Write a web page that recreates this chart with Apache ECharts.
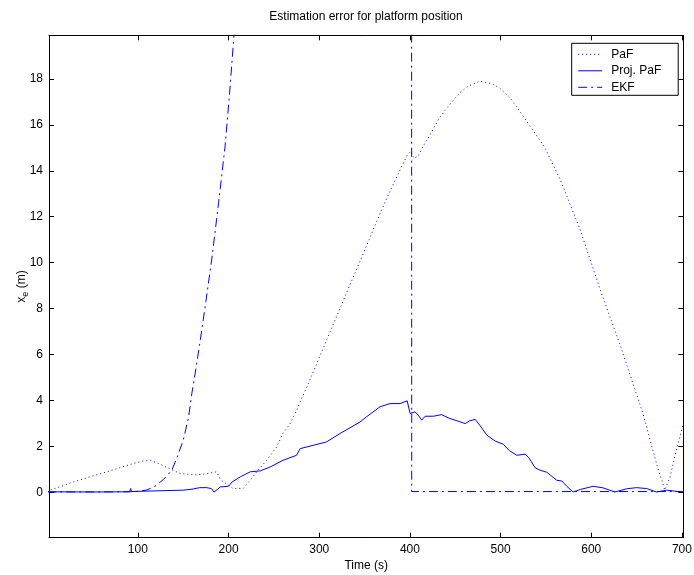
<!DOCTYPE html>
<html>
<head>
<meta charset="utf-8">
<script src="https://cdn.jsdelivr.net/npm/echarts@6/dist/echarts.min.js"></script>
<style>
html,body{margin:0;padding:0;background:#fff;}
#c{width:694px;height:575px;}
</style>
</head>
<body>
<div id="c"></div>
<script>
// ---- data ----
const titleText = 'Estimation error for platform position';
const seriesNames = ['PaF', 'Proj. PaF', 'EKF'];
const xTicks = [100, 200, 300, 400, 500, 600, 700];
const yTicks = [0, 2, 4, 6, 8, 10, 12, 14, 16, 18];

const pafT = [0, 3, 15, 29, 47, 66, 80, 95, 105, 114, 121, 132, 147, 165, 175, 187, 191, 200, 205, 216, 224, 231, 242, 253, 260, 268, 275, 283, 288, 300, 320, 340, 355, 367, 382, 397, 401, 404, 409, 415, 422, 431, 440, 455, 465, 477, 490, 499, 510, 521, 535, 549, 556, 566, 588, 610, 632, 646, 657, 667, 674, 679, 681, 687, 692, 700, 701];
const pafV = [0.02, 0.09, 0.25, 0.45, 0.67, 0.89, 1.07, 1.25, 1.35, 1.39, 1.28, 1.08, 0.81, 0.76, 0.8, 0.89, 0.55, 0.3, 0.16, 0.16, 0.52, 0.89, 1.39, 1.97, 2.56, 2.99, 3.57, 4.3, 4.73, 5.86, 7.73, 9.6, 11.0, 12.14, 13.45, 14.68, 14.85, 14.55, 14.63, 15.1, 15.55, 16.2, 16.7, 17.4, 17.7, 17.9, 17.8, 17.6, 17.2, 16.6, 15.8, 15.0, 14.4, 13.6, 11.4, 8.8, 6.4, 4.73, 3.43, 1.97, 0.96, 0.38, 0.09, 0.67, 1.54, 2.77, 2.9];

const projT = [0, 50, 91, 92, 93, 110, 130, 150, 161, 168, 176, 181, 184, 191, 200, 204, 213, 224, 235, 246, 260, 275, 279, 294, 308, 323, 345, 352, 367, 378, 389, 397, 398.5, 400.2, 405.7, 409.4, 413, 416.8, 426, 435, 444, 452, 461, 466, 472, 477, 485, 494, 503, 510, 518, 527, 531, 538, 543.5, 551, 555, 562, 567.5, 573, 580, 588, 602, 613, 626, 639, 650, 661, 672, 683, 700];
const projV = [0.02, 0.01, 0.02, 0.16, 0.03, 0.05, 0.07, 0.09, 0.14, 0.2, 0.2, 0.16, 0.01, 0.23, 0.26, 0.45, 0.67, 0.89, 0.93, 1.1, 1.39, 1.61, 1.9, 2.05, 2.19, 2.56, 3.06, 3.28, 3.72, 3.86, 3.86, 3.98, 4.0, 3.43, 3.5, 3.35, 3.14, 3.31, 3.31, 3.38, 3.21, 3.11, 2.99, 3.11, 3.17, 2.92, 2.48, 2.23, 2.09, 1.8, 1.61, 1.66, 1.51, 1.07, 0.96, 0.87, 0.74, 0.52, 0.49, 0.26, 0.01, 0.12, 0.26, 0.19, 0.01, 0.15, 0.2, 0.16, 0.01, 0.09, 0.01];

const ekfT = [0, 90, 100, 110, 119, 128, 137.5, 144, 150, 156, 159.5, 162, 168, 175, 182, 189, 196, 201, 206, 215, 300, 401.5, 402, 701];
const ekfV = [0.01, 0.02, 0.04, 0.1, 0.26, 0.55, 0.96, 1.6, 2.26, 3.28, 4.3, 4.88, 6.4, 8.3, 10.3, 12.6, 15.0, 17.3, 19.9, 24, 60, 80, 0.03, 0.03];

const xMin = 2, xMax = 701.5, yMin = -1.98, yMax = 19.9;

// ---- chart ----
const zip = (a, b) => a.map((t, i) => [t, b[i]]);
const FONT = 'Liberation Sans, Arial, Helvetica, sans-serif';
const BLUE = '#0000ff';

const cv = document.createElement('canvas').getContext('2d');
cv.font = '12px "Liberation Sans"';
const titleW = cv.measureText(titleText).width;

const axisCommon = {
  axisLine: { show: true, onZero: false, lineStyle: { color: '#000', width: 1 } },
  axisTick: { show: true, inside: true, length: 5, lineStyle: { color: '#000', width: 1 } },
  splitLine: { show: false },
  axisLabel: { color: '#000', fontFamily: FONT, fontSize: 12, margin: 6 }
};

const chart = echarts.init(document.getElementById('c'), null, { renderer: 'canvas' });
chart.setOption({
  animation: false,
  backgroundColor: '#fff',
  title: {
    text: titleText,
    left: 366 - titleW / 2,
    top: 11,
    padding: 0,
    textStyle: { color: '#000', fontFamily: FONT, fontSize: 12, fontWeight: 'normal' }
  },
  grid: { left: 49, right: 10.7, top: 35.3, bottom: 37.3, containLabel: false, outerBoundsMode: 'none' },
  legend: {
    orient: 'vertical',
    left: 571.7,
    top: 43.3,
    padding: [4, 17, 1, 6],
    itemWidth: 24,
    itemHeight: 12,
    itemGap: 2.5,
    borderColor: '#000',
    borderWidth: 1,
    backgroundColor: '#fff',
    itemStyle: { opacity: 0 },
    lineStyle: { width: 1 },
    textStyle: { color: '#000', fontFamily: FONT, fontSize: 12, lineHeight: 14, padding: [0, 0, 0, 4] },
    data: seriesNames
  },
  xAxis: [
    Object.assign({}, axisCommon, {
      type: 'value', position: 'bottom', min: xMin, max: xMax,
      axisTick: Object.assign({}, axisCommon.axisTick, { customValues: xTicks }),
      axisLabel: Object.assign({}, axisCommon.axisLabel, { customValues: xTicks }),
      name: 'Time (s)', nameLocation: 'middle', nameGap: 22, nameMoveOverlap: false,
      nameTextStyle: { color: '#000', fontFamily: FONT, fontSize: 12 }
    }),
    Object.assign({}, axisCommon, {
      type: 'value', position: 'top', min: xMin, max: xMax,
      axisTick: Object.assign({}, axisCommon.axisTick, { customValues: xTicks }),
      axisLabel: { show: false }
    })
  ],
  yAxis: [
    Object.assign({}, axisCommon, {
      type: 'value', position: 'left', min: yMin, max: yMax,
      axisTick: Object.assign({}, axisCommon.axisTick, { customValues: yTicks }),
      axisLabel: Object.assign({}, axisCommon.axisLabel, { customValues: yTicks }),
      name: '{a|x}{b|e}{a| (m)}', nameLocation: 'middle', nameGap: 19, nameMoveOverlap: false,
      nameTextStyle: {
        color: '#000', fontFamily: FONT, fontSize: 12,
        rich: {
          a: { color: '#000', fontFamily: FONT, fontSize: 12, lineHeight: 16 },
          b: { color: '#000', fontFamily: FONT, fontSize: 9, lineHeight: 16, padding: [7, 0, 0, 0] }
        }
      }
    }),
    Object.assign({}, axisCommon, {
      type: 'value', position: 'right', min: yMin, max: yMax,
      axisTick: Object.assign({}, axisCommon.axisTick, { customValues: yTicks }),
      axisLabel: { show: false }
    })
  ],
  series: [
    {
      name: seriesNames[0], type: 'line', xAxisIndex: 0, yAxisIndex: 0,
      symbol: 'none', showSymbol: false, clip: true,
      lineStyle: { color: BLUE, width: 1, type: [1, 3] },
      itemStyle: { color: BLUE },
      data: zip(pafT, pafV)
    },
    {
      name: seriesNames[1], type: 'line', xAxisIndex: 0, yAxisIndex: 0,
      symbol: 'none', showSymbol: false, clip: true,
      lineStyle: { color: BLUE, width: 1, type: 'solid' },
      itemStyle: { color: BLUE },
      data: zip(projT, projV)
    },
    {
      name: seriesNames[2], type: 'line', xAxisIndex: 0, yAxisIndex: 0,
      symbol: 'none', showSymbol: false, clip: true,
      lineStyle: { color: BLUE, width: 1, type: [9, 4, 2, 4] },
      itemStyle: { color: BLUE },
      data: zip(ekfT, ekfV)
    }
  ]
});
</script>
</body>
</html>
